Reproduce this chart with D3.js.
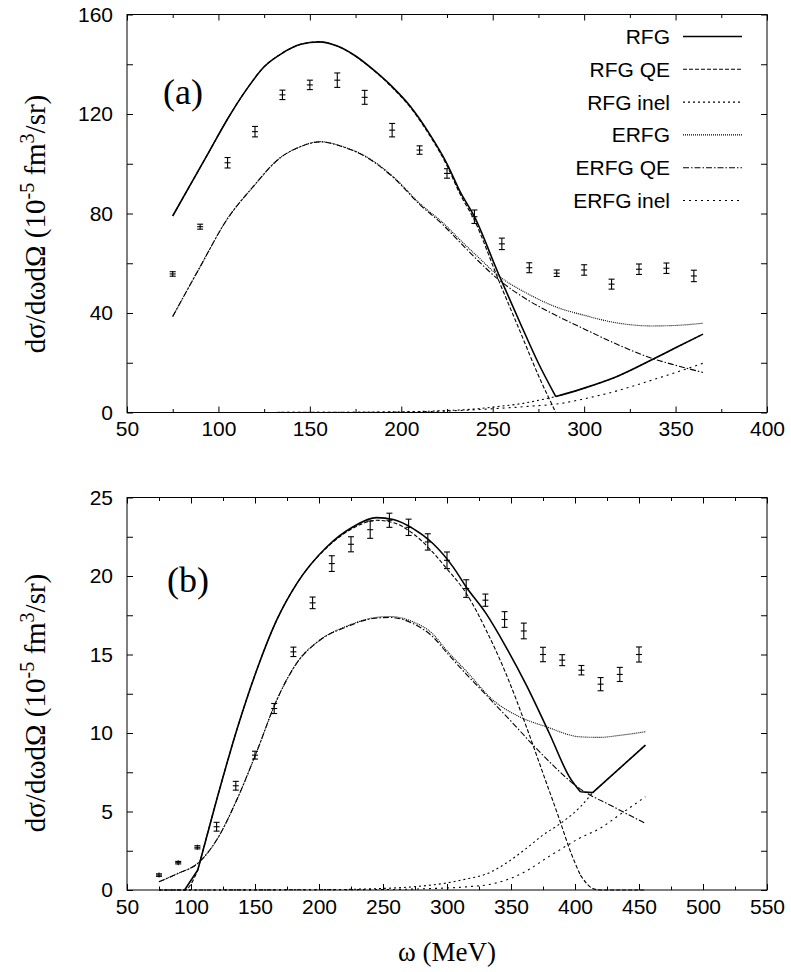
<!DOCTYPE html>
<html>
<head>
<meta charset="utf-8">
<script src="https://cdn.jsdelivr.net/npm/d3@7"></script>
<style>
  body { margin: 0; background: #fff; }
  svg { display: block; }
  .tick text { font-family: "Liberation Sans", Arial, sans-serif; font-size: 21px; fill: #000; }
  .serif { font-family: "Liberation Serif", "Times New Roman", serif; fill: #000; }
  .legend text { font-family: "Liberation Sans", Arial, sans-serif; font-size: 21px; fill: #000; }
</style>
</head>
<body>
<script>
// ---- panel (a): measured points (omega in MeV, cross section, error)
const omegaA = [75, 90, 105, 120, 135, 150, 165, 180, 195, 210, 225, 240, 255, 270, 285, 300, 315, 330, 345, 360];
const sigmaA = [55.7, 74.7, 100.4, 112.9, 127.7, 131.7, 133.6, 126.7, 113.5, 105.5, 96.1, 78.7, 67.8, 58.2, 56.0, 57.3, 51.6, 57.6, 58.0, 54.9];
const errA = [0.9, 1.0, 2.1, 2.1, 1.9, 1.9, 2.9, 2.8, 2.7, 1.7, 1.9, 2.7, 2.3, 2.0, 1.3, 2.1, 2.0, 2.1, 2.1, 2.3];

// ---- panel (a): model curves, each a list of smooth pieces split at kinks
const rfgA = [
  [[75,79],[85,92],[95,105],[105,118],[115,129.5],[125,139],[135,144.5],[145,148],[155,149],[165,147.3],[175,143.3],[185,137.6],[195,131],[205,123],[215,112.5],[225,100],[232,89],[240,78.7],[253,56],[265,36],[275,19.8],[284.5,6.4]],
  [[284.5,6.4],[300,9.8],[318,14.5],[337,21.2],[350,26],[365,31.5]]
];
const rfgQeA = [
  [[75,79],[85,92],[95,105],[105,118],[115,129.5],[125,139],[135,144.5],[145,148],[155,149],[165,147.3],[175,143.2],[185,137.5],[195,130.7],[205,122.6],[215,112],[225,99.2],[232,88],[240,77.3],[253,53.6],[265,32.5],[275,14.9],[284.5,0]],
  [[284.5,0],[365,0]]
];
const rfgInelA = [
  [[75,0],[150,0.05],[180,0.15],[200,0.3],[215,0.5],[225,0.8],[232,1.0],[240,1.4],[253,2.4],[265,3.5],[275,4.9],[284.5,6.4]],
  [[284.5,6.4],[300,9.8],[318,14.5],[337,21.2],[350,26],[365,31.5]]
];
const erfgA = [
  [[75,38.6],[90,58.6],[104.5,77.4],[119,90.8],[133.6,102.3],[144.6,106.8],[155.5,108.9],[168,106.9],[181,102.8],[195.6,94.8],[210,84.1],[223,76.1],[232,69.5],[242,62.5],[252.6,55.3],[269,47.8],[285.8,42.1],[300,39.1],[316.5,36.2],[337,34.8],[350,35.0],[365,35.9]]
];
const erfgQeA = [
  [[75,38.6],[90,58.6],[104.5,77.4],[119,90.8],[133.6,102.3],[144.6,106.8],[155.5,108.8],[168,106.8],[181,102.6],[195.6,94.5],[210,83.7],[223,75.3],[232,68.5],[242,61],[252.6,53.8],[269,45.3],[285.8,38.6],[300,33.6],[316.5,27.9],[337,21.8],[350,19.0],[365,16.1]]
];
const erfgInelA = [
  [[75,0],[150,0.05],[200,0.2],[225,0.6],[250,1.5],[270,2.5],[286,3.5],[300,5.5],[316,8.3],[337,13],[355,17.3],[365,19.8]]
];

// ---- panel (b): measured points
const omegaB = [75, 90, 105, 120, 135, 150, 165, 180, 195, 210, 225, 240, 255, 270, 285, 300, 315, 330, 345, 360, 375, 390, 405, 420, 435, 450];
const sigmaB = [0.95, 1.74, 2.72, 4.03, 6.64, 8.59, 11.56, 15.17, 18.29, 20.79, 22.02, 22.95, 23.55, 23.1, 22.17, 21.0, 19.2, 18.46, 17.23, 16.5, 15.0, 14.64, 14.0, 13.11, 13.73, 15.0];
const errB = [0.08, 0.08, 0.1, 0.28, 0.28, 0.25, 0.32, 0.3, 0.37, 0.5, 0.48, 0.55, 0.45, 0.52, 0.52, 0.53, 0.56, 0.39, 0.5, 0.5, 0.46, 0.35, 0.3, 0.42, 0.45, 0.48];

// ---- panel (b): model curves
const rfgB = [
  [[95,0],[105.3,1.27]],
  [[105.3,1.27],[120,5.73],[135.7,10.18],[151.3,14.0],[167,17.2],[182.5,19.5],[206,21.85],[226.7,23.14],[245,23.72],[258,23.6],[273.5,23.02],[289,22.07],[304.7,20.58],[315,19.3],[330.6,17.6],[346,15.49],[362,13.05],[380,9.97],[395.6,7.21],[404.2,6.26]],
  [[404.2,6.26],[413.8,6.2]],
  [[413.8,6.2],[455,9.23]]
];
const rfgQeB = [
  [[75,0],[95,0],[105.3,1.27]],
  [[105.3,1.27],[120,5.73],[135.7,10.18],[151.3,14.0],[167,17.2],[182.5,19.5],[206,21.8],[226.7,23.05],[245,23.55],[258,23.4],[273.5,22.7],[289,21.5],[299.5,20.5],[315,18.9],[330.6,16.55],[346,13.79],[362,10.4],[375,7.43],[388,4.46],[397,2.33],[404.2,0.95]],
  [[404.2,0.95],[413.8,0.1],[420,0],[455,0]]
];
const rfgInelB = [
  [[75,0],[200,0.02],[250,0.1],[280,0.25],[300,0.45],[315,0.7],[330,1.0],[346,1.7],[362,2.65],[375,3.5],[388,4.2],[404.2,5.3],[413.8,6.2]],
  [[413.8,6.2],[455,9.23]]
];
const erfgB = [
  [[75,0.53],[90,1.06],[105.3,1.7],[120,3.18],[135.7,5.73],[151.3,8.8],[167,12.1],[182.5,14.45],[200.7,15.93],[221.5,16.8],[242,17.33],[255,17.42],[273.5,17.08],[289,16.3],[299.5,15.28],[315,13.95],[336,12.09],[356.7,11.03],[377.5,10.4],[403.5,9.76],[419,9.72],[435,9.85],[455,10.08]]
];
const erfgQeB = [
  [[75,0.53],[90,1.06],[105.3,1.7],[120,3.18],[135.7,5.73],[151.3,8.8],[167,12.1],[182.5,14.43],[200.7,15.91],[221.5,16.76],[242,17.29],[255,17.36],[273.5,16.97],[289,16.12],[300,15.1],[315,13.75],[332,12.3],[350,10.75],[370,9.0],[403.5,6.47],[430,5.3],[455,4.24]]
];
const erfgInelB = [
  [[75,0],[250,0.03],[290,0.1],[315,0.2],[336,0.4],[350,0.75],[365,1.35],[377,2.0],[391,2.7],[403.5,3.3],[419,3.9],[435,4.8],[455,5.94]]
];

// legend entries, same order for both panels
const seriesNames = ["RFG", "RFG QE", "RFG inel", "ERFG", "ERFG QE", "ERFG inel"];
const lineStyles = [
  { dash: null, width: 1.6 },
  { dash: "4,2", width: 1.1 },
  { dash: "2,3", width: 1.1 },
  { dash: "1,1", width: 1.1 },
  { dash: "6,2,1.5,2", width: 1.1 },
  { dash: "2,4", width: 1.1 }
];

const svg = d3.select("body").append("svg").attr("width", 791).attr("height", 972);

function drawPanel(p) {
  const x = d3.scaleLinear().domain(p.xDomain).range([127, 767]);
  const y = d3.scaleLinear().domain(p.yDomain).range([p.bottom, p.top]);
  const g = svg.append("g");

  const xMajor = d3.range(p.xDomain[0], p.xDomain[1] + 1, 50);
  const xMinor = d3.range(p.xDomain[0] + 25, p.xDomain[1], 50);
  const yTicks = d3.range(p.yDomain[0], p.yDomain[1] + 0.001, p.yStep);
  const yLabel = d => (Math.abs(d % p.yLabelStep) < 1e-6 ? d : "");

  // ticks on all four sides, pointing inward
  g.append("g").attr("transform", `translate(0,${p.bottom})`)
    .call(d3.axisBottom(x).tickValues(xMajor).tickSize(-6).tickPadding(9))
    .call(a => a.select(".domain").remove());
  g.append("g").attr("transform", `translate(0,${p.bottom})`)
    .call(d3.axisBottom(x).tickValues(xMinor).tickSize(-3.5).tickFormat(""))
    .call(a => a.select(".domain").remove());
  g.append("g").attr("transform", `translate(0,${p.top})`)
    .call(d3.axisTop(x).tickValues(xMajor).tickSize(-6).tickFormat(""))
    .call(a => a.select(".domain").remove());
  g.append("g").attr("transform", `translate(0,${p.top})`)
    .call(d3.axisTop(x).tickValues(xMinor).tickSize(-3.5).tickFormat(""))
    .call(a => a.select(".domain").remove());
  g.append("g").attr("transform", "translate(127,0)")
    .call(d3.axisLeft(y).tickValues(yTicks).tickSize(-6).tickPadding(14).tickFormat(yLabel))
    .call(a => a.select(".domain").remove());
  g.append("g").attr("transform", "translate(767,0)")
    .call(d3.axisRight(y).tickValues(yTicks).tickSize(-6).tickFormat(""))
    .call(a => a.select(".domain").remove());

  g.append("rect")
    .attr("x", 127).attr("y", p.top)
    .attr("width", 640).attr("height", p.bottom - p.top)
    .attr("fill", "none").attr("stroke", "#000").attr("stroke-width", 1);

  // model curves: smooth within each piece, sharp corners between pieces
  const line = d3.line().x(d => x(d[0])).y(d => y(d[1])).curve(d3.curveMonotoneX);
  p.curves.forEach((pieces, i) => {
    g.append("path")
      .attr("d", pieces.map(line).join(""))
      .attr("fill", "none")
      .attr("stroke", "#000")
      .attr("stroke-width", lineStyles[i].width)
      .attr("stroke-dasharray", lineStyles[i].dash);
  });

  // data with error bars
  const pts = p.omega.map((o, i) => ({ o, v: p.sigma[i], e: p.err[i] }));
  const eb = g.append("g").attr("stroke", "#000").attr("stroke-width", 1.1);
  pts.forEach(d => {
    const cx = x(d.o);
    const y0 = y(d.v - d.e), y1 = y(d.v + d.e), yc = y(d.v);
    eb.append("line").attr("x1", cx).attr("x2", cx).attr("y1", Math.max(y0, yc + 2.5)).attr("y2", Math.min(y1, yc - 2.5));
    eb.append("line").attr("x1", cx - 3).attr("x2", cx + 3).attr("y1", y0).attr("y2", y0);
    eb.append("line").attr("x1", cx - 3).attr("x2", cx + 3).attr("y1", y1).attr("y2", y1);
    eb.append("line").attr("x1", cx - 3).attr("x2", cx + 3).attr("y1", yc).attr("y2", yc);
  });

  // panel tag
  g.append("text").attr("class", "serif")
    .attr("x", p.tag[0]).attr("y", p.tag[1])
    .attr("font-size", 36).text(p.tag[2]);

  // rotated y title
  const t = g.append("text").attr("class", "serif")
    .attr("font-size", 29)
    .attr("text-anchor", "middle")
    .attr("transform", `translate(45,${p.titleY}) rotate(-90)`);
  t.append("tspan").text("dσ/dωdΩ (10");
  t.append("tspan").attr("font-size", 20).attr("dy", -11).text("-5");
  t.append("tspan").attr("dy", 11).text(" fm");
  t.append("tspan").attr("font-size", 20).attr("dy", -11).text("3");
  t.append("tspan").attr("dy", 11).text("/sr)");
}

drawPanel({
  xDomain: [50, 400], yDomain: [0, 160], yStep: 20, yLabelStep: 40,
  top: 14.5, bottom: 412.5, titleY: 224,
  omega: omegaA, sigma: sigmaA, err: errA,
  curves: [rfgA, rfgQeA, rfgInelA, erfgA, erfgQeA, erfgInelA],
  tag: [163, 104, "(a)"]
});

drawPanel({
  xDomain: [50, 550], yDomain: [0, 25], yStep: 2.5, yLabelStep: 5,
  top: 497.5, bottom: 890, titleY: 703,
  omega: omegaB, sigma: sigmaB, err: errB,
  curves: [rfgB, rfgQeB, rfgInelB, erfgB, erfgQeB, erfgInelB],
  tag: [167, 592, "(b)"]
});

// legend (panel a only)
const legend = svg.append("g").attr("class", "legend");
seriesNames.forEach((name, i) => {
  const by = 44 + i * 32.8;
  legend.append("text").attr("x", 670).attr("y", by).attr("text-anchor", "end").text(name);
  legend.append("line")
    .attr("x1", 683).attr("x2", 742).attr("y1", by - 7.5).attr("y2", by - 7.5)
    .attr("stroke", "#000")
    .attr("stroke-width", lineStyles[i].width)
    .attr("stroke-dasharray", lineStyles[i].dash);
});

// x title
svg.append("text").attr("class", "serif")
  .attr("x", 447).attr("y", 961)
  .attr("text-anchor", "middle").attr("font-size", 27)
  .text("ω (MeV)");
</script>
</body>
</html>
